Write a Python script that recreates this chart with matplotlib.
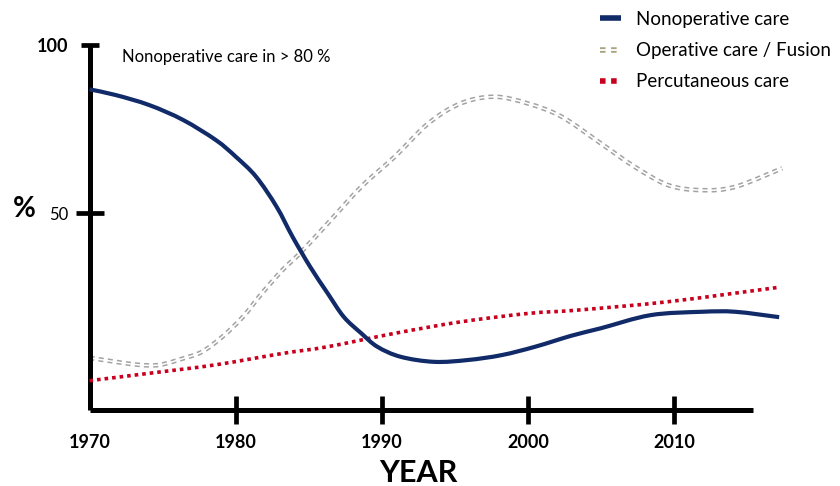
import matplotlib
matplotlib.use("Agg")
import matplotlib.pyplot as plt
from matplotlib.path import Path
from matplotlib.patches import PathPatch
from matplotlib.lines import Line2D
from matplotlib.legend_handler import HandlerTuple

plt.rcParams["font.family"] = ["Lato", "DejaVu Sans"]

# Values (percent of treatment by year)
nonop_years = [1970, 1971.8, 1974.1, 1976.4, 1978.65, 1980.0, 1981.4, 1982.8, 1983.9,
               1985.1, 1986.3, 1987.4, 1988.6, 1989.7, 1991.3, 1993.6, 1995.9, 1998.2,
               2000.5, 2003.0, 2005.0, 2008.4, 2011.9, 2014.2, 2017.2]
nonop_vals = [86.8, 85.1, 82.1, 77.7, 71.7, 66.8, 60.8, 51.9, 42.9,
              34.0, 26.1, 19.1, 14.2, 10.2, 7.2, 5.7, 6.25, 7.7,
              10.2, 13.5, 15.7, 19.6, 20.6, 20.6, 19.0]

oper_years = [1970, 1971.8, 1973.4, 1974.8, 1976.4, 1977.7, 1979.1, 1980.5, 1981.8,
              1983.2, 1984.4, 1986.3, 1988.6, 1990.9, 1993.2, 1995.4, 1997.7, 2000.0,
              2002.3, 2005.0, 2007.3, 2009.6, 2011.9, 2014.2, 2017.4]
oper_vals = [6.9, 5.7, 4.8, 4.8, 6.7, 8.7, 13.2, 19.1, 26.1,
             33.0, 38.0, 46.9, 57.8, 66.8, 76.7, 82.6, 84.6, 82.6,
             78.7, 70.7, 63.8, 58.3, 56.8, 57.8, 63.3]

perc_years = [1970, 1974.1, 1978.6, 1983.2, 1986.3, 1990.9, 1995.4, 2000.0, 2003.4, 2009.6, 2017.2]
perc_vals = [0.1, 2.3, 4.8, 8.2, 10.2, 14.2, 17.6, 20.1, 21.1, 23.6, 27.9]

year_ticks = [1970, 1980, 1990, 2000, 2010]
pct_ticks = [50, 100]
labels = ["Nonoperative care", "Operative care / Fusion", "Percutaneous care"]

navy = "#112a68"
red = "#c8001e"
gray = "#a3a3a3"
olive = "#a9a47f"


def smooth_path(xs, ys):
    # bezier path through the points (catmull-rom tangents)
    pts = list(zip(xs, ys))
    verts = [pts[0]]
    codes = [Path.MOVETO]
    n = len(pts)
    for i in range(n - 1):
        p0 = pts[max(i - 1, 0)]
        p1 = pts[i]
        p2 = pts[i + 1]
        p3 = pts[min(i + 2, n - 1)]
        c1 = (p1[0] + (p2[0] - p0[0]) / 6, p1[1] + (p2[1] - p0[1]) / 6)
        c2 = (p2[0] - (p3[0] - p1[0]) / 6, p2[1] - (p3[1] - p1[1]) / 6)
        verts += [c1, c2, p2]
        codes += [Path.CURVE4] * 3
    return Path(verts, codes)


fig = plt.figure(figsize=(8.4, 4.86), dpi=100)
ax = fig.add_axes([89.5 / 840, 76 / 486, 663.5 / 840, 365 / 486])

# operative care: double dashed line (gray dashes with a white core)
ax.add_patch(PathPatch(smooth_path(oper_years, oper_vals), fill=False, clip_on=False,
                       zorder=2, edgecolor=gray, lw=3.3, ls=(0, (1.1, 0.9))))
ax.add_patch(PathPatch(smooth_path(oper_years, oper_vals), fill=False, clip_on=False,
                       zorder=2.1, edgecolor="white", lw=1.1))
ax.add_patch(PathPatch(smooth_path(perc_years, perc_vals), fill=False, clip_on=False,
                       zorder=3, edgecolor=red, lw=2.6, ls=(0, (1.0, 1.1))))
ax.add_patch(PathPatch(smooth_path(nonop_years, nonop_vals), fill=False, clip_on=False,
                       zorder=4, edgecolor=navy, lw=3.0, capstyle="butt"))

ax.set_xlim(1970, 2015.41)
ax.set_ylim(-8.63, 100)

for s in ["top", "right"]:
    ax.spines[s].set_visible(False)
for s in ["left", "bottom"]:
    ax.spines[s].set_linewidth(3.6)
    ax.spines[s].set_capstyle("butt")

ax.set_xticks(year_ticks)
ax.set_xticklabels([str(y) for y in year_ticks])
ax.set_yticks(pct_ticks)
ax.set_yticklabels(["50", "100"])
ax.tick_params(axis="x", direction="inout", length=20, width=3.4, pad=7, labelsize=13)
ax.tick_params(axis="y", direction="inout", length=20, width=3.4, pad=5, labelsize=12)
for lab in ax.get_xticklabels():
    lab.set_fontweight("bold")
ax.xaxis.get_major_ticks()[0].tick1line.set_visible(False)
ytk = ax.yaxis.get_major_ticks()
ytk[1].tick1line.set_markersize(13)
ytk[1].label1.set_fontweight("bold")
ytk[1].label1.set_fontsize(13)

ax.text(1972.2, 96.5, "Nonoperative care in > 80 %", fontsize=12, va="center", ha="left")

fig.text(24 / 840, 1 - 209 / 486, "%", fontsize=20, fontweight="bold", ha="center", va="center")
fig.text(418 / 840, 1 - 473 / 486, "YEAR", fontsize=22, fontweight="bold", ha="center", va="center")

# legend proxies
h_no = Line2D([], [], color=navy, lw=4, solid_capstyle="butt")
h_op = (Line2D([], [], color=olive, lw=4, ls=(0, (1.0, 1.0))),
        Line2D([], [], color="white", lw=1.3))
h_pc = Line2D([], [], color=red, lw=4, ls=(0, (1.0, 1.0)))

fig.legend([h_no, h_op, h_pc], labels,
           handler_map={tuple: HandlerTuple(ndivide=1, pad=0)},
           loc="upper left", bbox_to_anchor=(583 / 840, 1.012), frameon=False,
           fontsize=13.5, handlelength=1.15, handletextpad=0.8, labelspacing=0.75)

fig.savefig("out.png", dpi=100, facecolor="white")
